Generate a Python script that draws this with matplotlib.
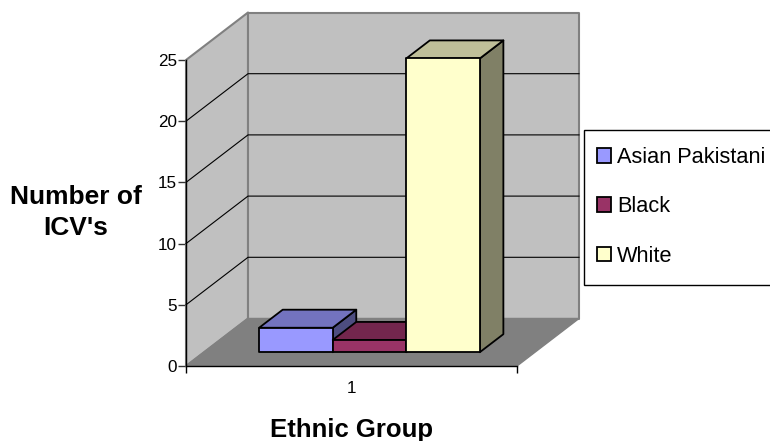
import matplotlib
matplotlib.use('Agg')
import matplotlib.pyplot as plt
from matplotlib.patches import Patch, Polygon, Rectangle

categories = ['Asian Pakistani', 'Black', 'White']
values = [2, 1, 24]
front_colors = ['#9999FF', '#993366', '#FFFFCC']
top_colors = ['#7373BF', '#73264D', '#BFBF99']
side_colors = ['#4D4D80', '#4D1A33', '#808066']
y_ticks = [0, 5, 10, 15, 20, 25]

W, H = 770, 441
plt.rcParams['font.family'] = ['Liberation Sans', 'DejaVu Sans']

fig = plt.figure(figsize=(W / 100, H / 100), dpi=100)
# front plane of the 3d box, in pixels of the picture
ax = fig.add_axes([186 / W, 1 - 366 / H, 331 / W, 306 / H])
ax.set_xlim(0, 1)
ax.set_ylim(0, 25)
ax.patch.set_visible(False)

# oblique depth of the box, in data units
DX = 62 / 331
DY = 47.5 / 306 * 25


def proj(x, y, d):
    return (x + d * DX, y + d * DY)


def face(points, color, edge, lw=1.0, z=2):
    ax.add_patch(Polygon([proj(*p) for p in points], closed=True, facecolor=color,
                         edgecolor=edge, linewidth=lw, clip_on=False, zorder=z,
                         joinstyle='round'))


# walls and floor
face([(0, 0, 0), (0, 0, 1), (0, 25, 1), (0, 25, 0)], '#C0C0C0', '#808080', 1.5)
face([(0, 0, 1), (1, 0, 1), (1, 25, 1), (0, 25, 1)], '#C0C0C0', '#808080', 1.5)
face([(0, 0, 0), (1, 0, 0), (1, 0, 1), (0, 0, 1)], '#808080', '#808080', 1.0)

# gridlines on both walls
for t in y_ticks[1:-1]:
    xs, ys = zip(proj(0, t, 0), proj(0, t, 1), proj(1, t, 1))
    ax.plot(xs, ys, color='black', lw=0.8, zorder=2.5, clip_on=False)

# bars: front at depth d0, running back to d1
d0, d1 = 0.29, 0.67
width = 2 / 9
left = 0.5 - 1.5 * width
for i, v in enumerate(values):
    x0 = left + i * width
    x1 = x0 + width
    z = 3 + i
    face([(x1, 0, d0), (x1, 0, d1), (x1, v, d1), (x1, v, d0)], side_colors[i], 'black', 1.3, z)
    face([(x0, v, d0), (x1, v, d0), (x1, v, d1), (x0, v, d1)], top_colors[i], 'black', 1.3, z)
    face([(x0, 0, d0), (x1, 0, d0), (x1, v, d0), (x0, v, d0)], front_colors[i], 'black', 1.3, z)

# axes
for s in ['top', 'right']:
    ax.spines[s].set_visible(False)
for s in ['left', 'bottom']:
    ax.spines[s].set_linewidth(1.0)
    ax.spines[s].set_zorder(10)
ax.set_yticks(y_ticks)
ax.set_xticks([0, 1])
ax.set_xticklabels(['', ''])
ax.tick_params(axis='y', length=5.5, width=1.0, labelsize=12.3, color='#333333', pad=1)
ax.tick_params(axis='x', length=5, width=1.0)
ax.text(0.5, -0.048, '1', transform=ax.transAxes, fontsize=12.3, ha='center', va='top')

fig.text(75.5 / W, 1 - 212.5 / H, "Number of\nICV's", fontsize=19, fontweight='bold',
         ha='center', va='center', linespacing=1.33)
fig.text(351 / W, 1 - 430 / H, 'Ethnic Group', fontsize=18.5, fontweight='bold',
         ha='center', va='center')

# legend box, runs off the right edge like the original
fig.add_artist(Rectangle((584 / W, 1 - 285 / H), 190 / W, 155 / H, transform=fig.transFigure,
                         facecolor='white', edgecolor='black', linewidth=1.0))
handles = [Patch(facecolor=c, edgecolor='black', linewidth=1.3) for c in front_colors]
leg = fig.legend(handles, categories, loc='upper left', bbox_to_anchor=(597 / W, 1 - 147 / H),
                 bbox_transform=fig.transFigure, fontsize=15.7, frameon=False,
                 handlelength=0.65, handleheight=0.65, handletextpad=0.28,
                 labelspacing=1.3, borderpad=0, borderaxespad=0)

fig.savefig('out.png', dpi=100)
